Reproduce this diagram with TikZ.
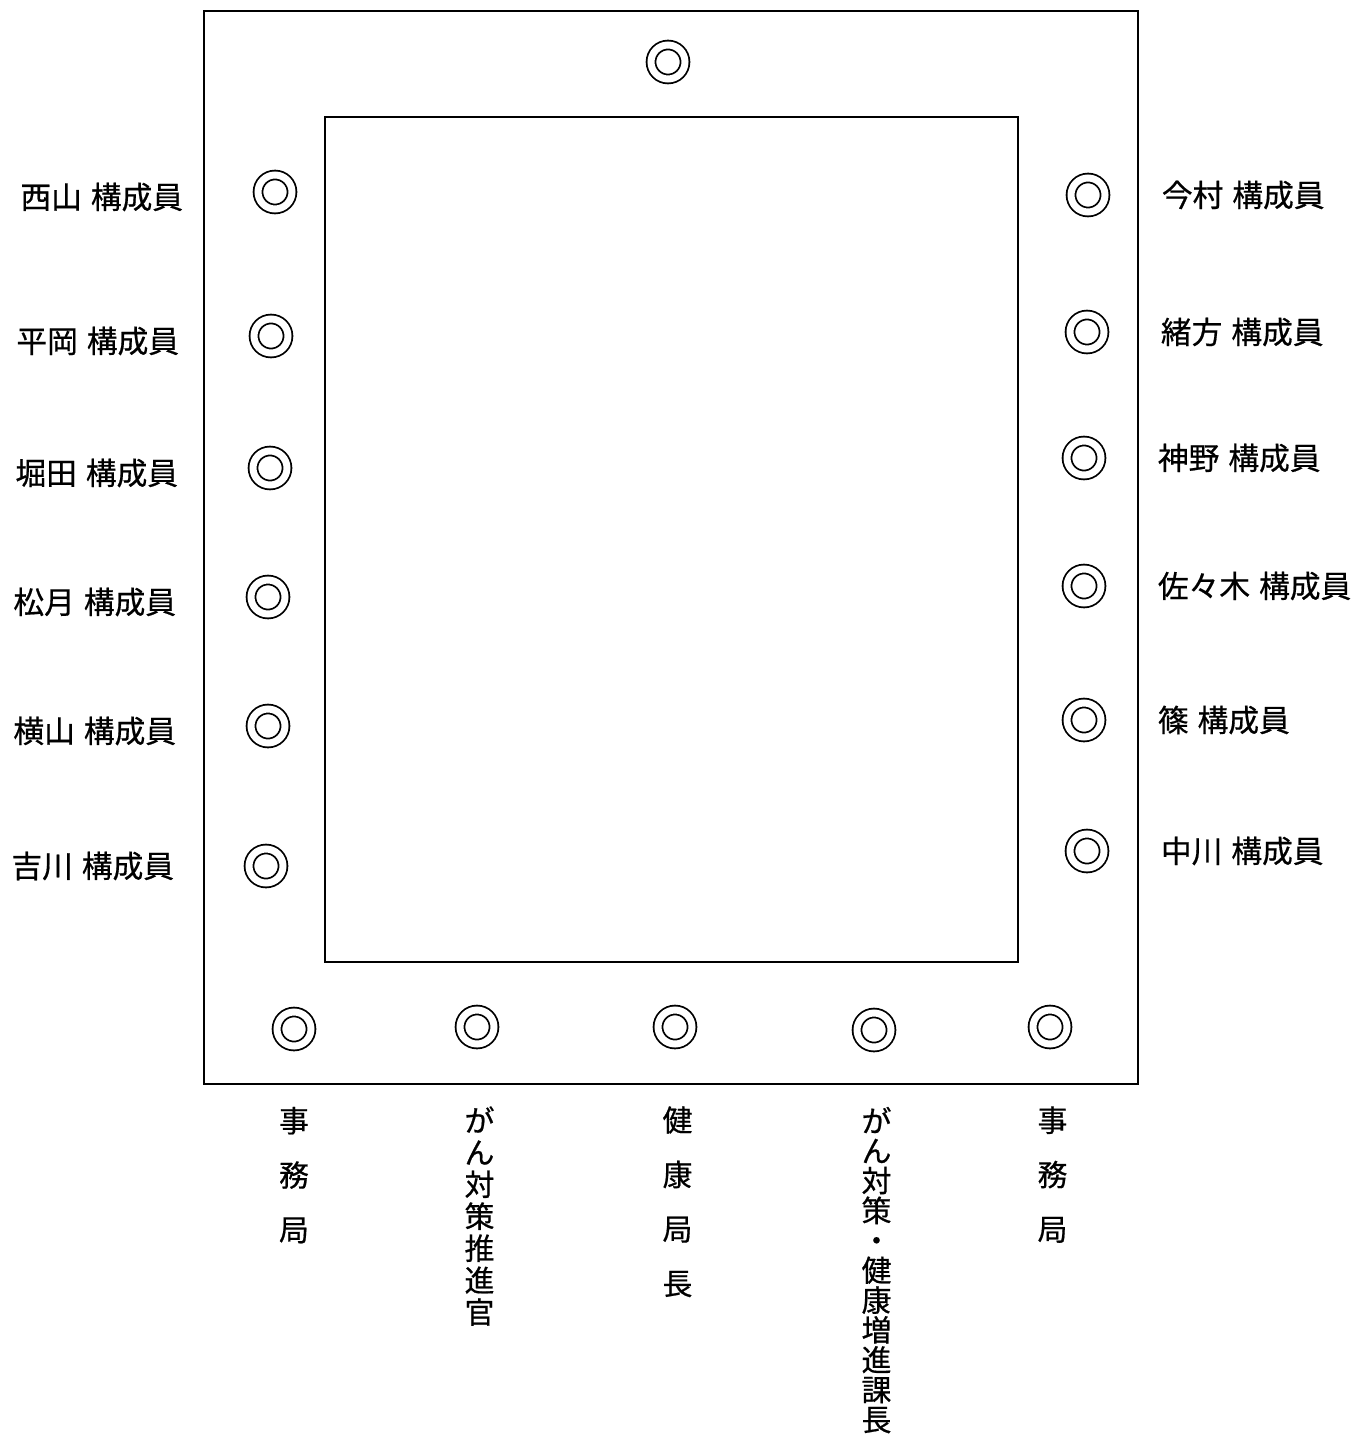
\documentclass[tikz,border=0pt]{standalone}
\usepackage{fontspec}
\newfontfamily\cjk[WordSpace=1.3,FakeBold=0.6]{Noto Sans CJK JP}
\usetikzlibrary{positioning}

\begin{document}
\begin{tikzpicture}[x=0.02cm,y=-0.02cm,line width=0.04cm,
    seat/.style={circle,draw,double,double distance=0.14cm,line width=0.036cm,
                 minimum size=0.68cm,inner sep=0pt},
    member/.style={inner sep=0pt,font=\cjk\fontsize{17.5}{20}\selectfont},
    tate/.style={inner sep=0pt,align=center,xshift=0.05cm,
                 font=\cjk\fontsize{17}{18.2}\selectfont},
    tate long/.style={tate,font=\cjk\fontsize{17}{17}\selectfont},
    tate wide/.style={tate,font=\cjk\fontsize{17}{31}\selectfont}]

  \useasboundingbox (0,0) rectangle (1355,1442);

  % tables
  \draw (204,11) rectangle (1138,1084);
  \draw (325,117) rectangle (1018,962);

  % seats
  \node[seat] (t) at (668,62) {};
  \node[seat] (l1) at (275,192) {};
  \node[seat] (l2) at (271,336) {};
  \node[seat] (l3) at (270,468) {};
  \node[seat] (l4) at (268,597) {};
  \node[seat] (l5) at (268,726) {};
  \node[seat] (l6) at (266,866) {};
  \node[seat] (r1) at (1088,195) {};
  \node[seat] (r2) at (1087,332) {};
  \node[seat] (r3) at (1084,458) {};
  \node[seat] (r4) at (1084,586) {};
  \node[seat] (r5) at (1084,720) {};
  \node[seat] (r6) at (1087,851) {};
  \node[seat] (b1) at (294,1029) {};
  \node[seat] (b2) at (477,1027) {};
  \node[seat] (b3) at (675,1027) {};
  \node[seat] (b4) at (874,1030) {};
  \node[seat] (b5) at (1050,1027) {};

  % names
  \node[member,left=1.46cm of l1,yshift=-0.1cm] (nl1) {西山 構成員};
  \node[member,left=1.46cm of l2,yshift=-0.1cm] (nl2) {平岡 構成員};
  \node[member,left=1.46cm of l3,yshift=-0.1cm] (nl3) {堀田 構成員};
  \node[member,left=1.46cm of l4,yshift=-0.1cm] (nl4) {松月 構成員};
  \node[member,left=1.46cm of l5,yshift=-0.1cm] (nl5) {横山 構成員};
  \node[member,left=1.46cm of l6] (nl6) {吉川 構成員};
  \node[member,right=1.1cm of r1] (nr1) {今村 構成員};
  \node[member,right=1.1cm of r2] (nr2) {緒方 構成員};
  \node[member,right=1.1cm of r3] (nr3) {神野 構成員};
  \node[member,right=1.1cm of r4] (nr4) {佐々木 構成員};
  \node[member,right=1.1cm of r5] (nr5) {篠 構成員};
  \node[member,right=1.1cm of r6] (nr6) {中川 構成員};
  \node[tate wide,below=1.18cm of b1,xshift=-0.05cm] (nb1) {事\\務\\局};
  \node[tate,below=1.21cm of b2] (nb2) {が\\ん\\対\\策\\推\\進\\官};
  \node[tate wide,below=1.21cm of b3] (nb3) {健\\康\\局\\長};
  \node[tate long,below=1.16cm of b4] (nb4) {が\\ん\\対\\策\\・\\健\\康\\増\\進\\課\\長};
  \node[tate wide,below=1.21cm of b5] (nb5) {事\\務\\局};

\end{tikzpicture}
\end{document}
